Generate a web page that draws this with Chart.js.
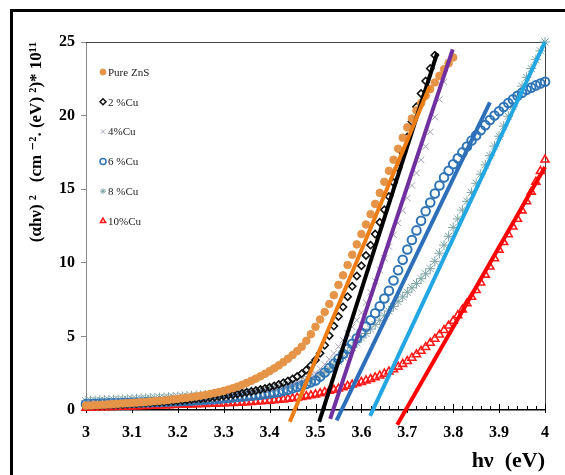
<!DOCTYPE html>
<html>
<head>
<meta charset="utf-8">
<script src="https://cdn.jsdelivr.net/npm/chart.js@4.4.0/dist/chart.umd.min.js"></script>
<style>
  html, body { margin: 0; padding: 0; background: #fff; overflow: hidden; }
  #c { display: block; }
</style>
</head>
<body>
<canvas id="c" width="565" height="475"></canvas>
<script>
// photon energy (eV) for the measured points
var hv = [
  3.00,3.01,3.02,3.03,3.04,3.05,3.06,3.07,3.08,3.09,
  3.10,3.11,3.12,3.13,3.14,3.15,3.16,3.17,3.18,3.19,
  3.20,3.21,3.22,3.23,3.24,3.25,3.26,3.27,3.28,3.29,
  3.30,3.31,3.32,3.33,3.34,3.35,3.36,3.37,3.38,3.39,
  3.40,3.41,3.42,3.43,3.44,3.45,3.46,3.47,3.48,3.49,
  3.50,3.51,3.52,3.53,3.54,3.55,3.56,3.57,3.58,3.59,
  3.60,3.61,3.62,3.63,3.64,3.65,3.66,3.67,3.68,3.69,
  3.70,3.71,3.72,3.73,3.74,3.75,3.76,3.77,3.78,3.79,
  3.80,3.81,3.82,3.83,3.84,3.85,3.86,3.87,3.88,3.89,
  3.90,3.91,3.92,3.93,3.94,3.95,3.96,3.97,3.98,3.99,
  4.00
];

var names = ["Pure ZnS", "2 %Cu", "4%Cu", "6 %Cu", "8 %Cu", "10%Cu"];

var pureZnS = [
  0.30,0.31,0.33,0.34,0.36,0.38,0.40,0.42,0.44,0.46,
  0.48,0.50,0.52,0.54,0.57,0.60,0.62,0.65,0.68,0.72,
  0.75,0.79,0.83,0.87,0.92,0.97,1.02,1.08,1.15,1.22,
  1.30,1.39,1.48,1.59,1.71,1.84,1.98,2.13,2.29,2.46,
  2.64,2.83,3.03,3.25,3.48,3.73,4.00,4.30,4.70,5.15,
  5.65,6.15,6.65,7.20,7.80,8.50,9.15,9.85,10.55,11.25,
  11.95,12.60,13.30,14.00,14.75,15.50,16.25,17.00,17.75,18.50,
  19.20,19.80,20.35,20.85,21.35,21.80,22.25,22.70,23.15,23.55,
  23.95
];
var cu2 = [
  0.28,0.29,0.30,0.31,0.32,0.34,0.35,0.37,0.38,0.40,
  0.42,0.43,0.45,0.47,0.49,0.51,0.53,0.55,0.57,0.60,
  0.62,0.65,0.68,0.71,0.74,0.77,0.80,0.84,0.87,0.91,
  0.95,1.00,1.04,1.09,1.14,1.20,1.26,1.32,1.39,1.47,
  1.55,1.64,1.74,1.85,1.97,2.10,2.27,2.47,2.72,3.02,
  3.40,3.85,4.40,5.05,5.70,6.35,7.00,7.70,8.40,9.10,
  9.80,10.50,11.20,11.95,12.75,13.60,14.50,15.45,16.45,17.50,
  18.55,19.60,20.60,21.50,22.35,23.20,24.10
];
var cu4 = [
  0.45,0.46,0.47,0.48,0.49,0.50,0.51,0.52,0.54,0.55,
  0.57,0.58,0.60,0.61,0.63,0.65,0.67,0.69,0.71,0.73,
  0.75,0.77,0.79,0.81,0.84,0.86,0.89,0.91,0.94,0.97,
  1.00,1.03,1.07,1.10,1.14,1.18,1.22,1.27,1.32,1.38,
  1.44,1.51,1.58,1.66,1.75,1.85,1.96,2.08,2.21,2.35,
  2.50,2.80,3.10,3.45,3.85,4.30,4.75,5.20,5.65,6.10,
  6.60,7.30,8.00,8.75,9.50,10.30,11.10,11.90,12.70,13.55,
  14.40,15.25,16.10,17.00,17.90,18.90,19.90,21.10,22.30,23.60
];
var cu6 = [
  0.40,0.41,0.42,0.43,0.44,0.45,0.46,0.46,0.47,0.48,
  0.49,0.50,0.51,0.52,0.53,0.54,0.55,0.56,0.57,0.59,
  0.60,0.61,0.63,0.64,0.66,0.68,0.70,0.72,0.74,0.77,
  0.80,0.82,0.85,0.88,0.91,0.94,0.97,1.00,1.04,1.08,
  1.12,1.17,1.23,1.30,1.38,1.47,1.56,1.66,1.77,1.88,
  2.00,2.27,2.55,2.85,3.15,3.47,3.80,4.15,4.50,4.87,
  5.25,5.67,6.10,6.57,7.05,7.57,8.10,8.80,9.50,10.20,
  10.90,11.55,12.20,12.85,13.50,14.10,14.70,15.25,15.80,16.25,
  16.70,17.10,17.50,17.90,18.30,18.65,19.00,19.35,19.70,20.00,
  20.30,20.58,20.85,21.10,21.35,21.55,21.75,21.90,22.05,22.18,
  22.30
];
var cu8 = [
  0.62,0.63,0.64,0.66,0.67,0.68,0.69,0.70,0.72,0.73,
  0.75,0.76,0.78,0.79,0.81,0.82,0.84,0.85,0.87,0.88,
  0.90,0.92,0.94,0.96,0.98,1.00,1.02,1.04,1.06,1.08,
  1.10,1.12,1.14,1.17,1.19,1.22,1.25,1.28,1.32,1.36,
  1.40,1.45,1.51,1.57,1.63,1.70,1.78,1.87,1.97,2.08,
  2.20,2.38,2.58,2.80,3.04,3.30,3.60,3.92,4.25,4.57,
  4.90,5.20,5.50,5.80,6.10,6.40,6.72,7.04,7.36,7.68,
  8.00,8.30,8.60,8.92,9.25,9.60,10.10,10.65,11.20,11.80,
  12.40,12.98,13.58,14.18,14.78,15.40,16.02,16.65,17.28,17.93,
  18.60,19.28,19.96,20.64,21.32,22.00,22.60,23.20,23.80,24.40,
  25.00
];
var cu10 = [
  0.15,0.16,0.17,0.17,0.18,0.19,0.20,0.21,0.22,0.23,
  0.24,0.25,0.26,0.27,0.28,0.29,0.30,0.31,0.32,0.33,
  0.34,0.35,0.36,0.37,0.38,0.39,0.40,0.41,0.42,0.43,
  0.45,0.46,0.47,0.49,0.50,0.52,0.54,0.56,0.58,0.60,
  0.62,0.65,0.68,0.71,0.75,0.79,0.83,0.88,0.93,0.99,
  1.05,1.13,1.21,1.29,1.37,1.45,1.54,1.63,1.72,1.81,
  1.90,2.00,2.10,2.21,2.33,2.46,2.60,2.76,2.93,3.12,
  3.32,3.54,3.77,4.01,4.27,4.55,4.83,5.12,5.42,5.73,
  6.05,6.42,6.82,7.24,7.68,8.14,8.65,9.18,9.73,10.30,
  10.88,11.40,11.93,12.45,12.98,13.55,14.17,14.82,15.50,16.22,
  17.00
];

// linear fits (Tauc extrapolation), end points [x0, x1], [y0, y1]
var fitZnSx = [3.444, 3.749], fitZnSy = [-0.8, 22.0];
var fit2x = [3.508, 3.765],   fit2y = [-0.8, 24.25];
var fit4x = [3.532, 3.799],   fit4y = [-0.6, 24.5];
var fit6x = [3.546, 3.880],   fit6y = [-0.7, 20.9];
var fit8x = [3.619, 4.000],   fit8y = [-0.4, 25.0];
var fit10x = [3.678, 4.000],  fit10y = [-1.0, 16.5];

var xTicks = ["3", "3.1", "3.2", "3.3", "3.4", "3.5", "3.6", "3.7", "3.8", "3.9", "4"];

function pts(ys) { return ys.map(function (y, i) { return { x: hv[i], y: y }; }); }
function line(xs, ys) { return xs.map(function (x, i) { return { x: x, y: ys[i] }; }); }

var serif = '"Liberation Serif", "DejaVu Serif", serif';

function markerSet(label, ys, style, fill, stroke, r, bw) {
  return {
    label: label, data: pts(ys), showLine: false, order: 2, clip: false,
    pointStyle: style, pointRadius: r, pointHoverRadius: r,
    pointBackgroundColor: fill, pointBorderColor: stroke, pointBorderWidth: bw
  };
}
function fitSet(xs, ys, color) {
  return {
    label: "", data: line(xs, ys), showLine: true, order: 1, clip: false,
    borderColor: color, borderWidth: 4, pointRadius: 0, fill: false
  };
}

var markers = [
  markerSet(names[0], pureZnS, 'circle', '#E59448', '#E59448', 3.8, 1),
  markerSet(names[1], cu2, 'rectRot', 'rgba(255,255,255,0)', '#111', 3.6, 1.6),
  markerSet(names[2], cu4, 'crossRot', 'rgba(0,0,0,0)', '#A99FB8', 4.5, 1),
  markerSet(names[3], cu6, 'circle', 'rgba(255,255,255,0)', '#2F75B5', 4.3, 2),
  markerSet(names[4], cu8, 'star', 'rgba(0,0,0,0)', '#7CA4A6', 5, 1),
  markerSet(names[5], cu10, 'triangle', 'rgba(255,255,255,0)', '#FF1A1A', 4.6, 1.6)
];
var fits = [
  fitSet(fitZnSx, fitZnSy, '#EE7D14'),
  fitSet(fit2x, fit2y, '#000000'),
  fitSet(fit4x, fit4y, '#7030A0'),
  fitSet(fit6x, fit6y, '#2E6FBA'),
  fitSet(fit8x, fit8y, '#22A7E2'),
  fitSet(fit10x, fit10y, '#FF0000')
];

var frameAndLegend = {
  id: 'frameAndLegend',
  beforeDraw: function (chart) {
    var ctx = chart.ctx;
    ctx.save();
    ctx.fillStyle = '#fff';
    ctx.fillRect(0, 0, chart.width, chart.height);
    // outer picture frame: top and left edges only
    ctx.fillStyle = '#000';
    ctx.fillRect(10, 9, chart.width - 10, 3);
    ctx.fillRect(10, 9, 3, chart.height - 9);
    ctx.restore();
  },
  beforeDatasetsDraw: function (chart) {
    var a = chart.chartArea, ctx = chart.ctx;
    ctx.save();
    ctx.strokeStyle = '#444';
    ctx.lineWidth = 1;
    ctx.beginPath();
    ctx.moveTo(a.left, a.top + 0.5);
    ctx.lineTo(a.right + 0.5, a.top + 0.5);
    ctx.lineTo(a.right + 0.5, a.bottom);
    ctx.stroke();
    // x tick marks pointing into the plot
    var sx = chart.scales.x;
    ctx.strokeStyle = '#000';
    ctx.lineWidth = 1;
    sx.ticks.forEach(function (t) {
      var px = Math.round(sx.getPixelForValue(t.value)) + 0.5;
      var major = Math.abs(t.value * 10 - Math.round(t.value * 10)) < 1e-6;
      ctx.beginPath();
      ctx.moveTo(px, a.bottom - (major ? 6 : 4));
      ctx.lineTo(px, a.bottom + (major ? 3 : 0));
      ctx.stroke();
    });
    ctx.restore();
  },
  afterDatasetsDraw: function (chart) {
    var a = chart.chartArea, ctx = chart.ctx;
    ctx.save();
    ctx.font = '11px ' + serif;
    ctx.textBaseline = 'middle';
    markers.forEach(function (ds, i) {
      var y = a.top + 30 + i * 29.8;
      var x = a.left + 17;
      ctx.fillStyle = ds.pointBackgroundColor;
      ctx.strokeStyle = ds.pointBorderColor;
      ctx.lineWidth = Math.min(ds.pointBorderWidth, 1.5);
      Chart.helpers.drawPoint(ctx, { pointStyle: ds.pointStyle, radius: 3, rotation: 0, borderWidth: ctx.lineWidth }, x, y);
      ctx.fillStyle = '#222';
      ctx.fillText(ds.label, x + 5, y + 1);
    });
    ctx.restore();
  }
};

new Chart(document.getElementById('c'), {
  type: 'scatter',
  data: { datasets: fits.concat(markers) },
  options: {
    responsive: false,
    animation: false,
    events: [],
    layout: { padding: { left: 0, right: 20, top: 42, bottom: 0 } },
    plugins: { legend: { display: false }, tooltip: { enabled: false } },
    scales: {
      x: {
        type: 'linear', min: 3, max: 4,
        afterFit: function (s) { s.height = 65; },
        ticks: {
          stepSize: 0.02, autoSkip: false, maxRotation: 0, padding: 13,
          color: '#000', font: { family: serif, size: 16, weight: 'bold' },
          callback: function (v) {
            var k = Math.round(v * 10);
            if (Math.abs(v * 10 - k) > 1e-6) return '';
            return xTicks[k - 30];
          }
        },
        grid: { drawOnChartArea: false, drawTicks: false, tickLength: 0 },
        border: { color: '#000', width: 1.5 },
        title: {
          display: true, text: 'hν  (eV)', align: 'end', color: '#000',
          font: { family: serif, size: 22, weight: 'bold' }, padding: { top: 0, bottom: 0 }
        }
      },
      y: {
        min: 0, max: 25,
        afterFit: function (s) { s.width = 86; },
        ticks: {
          stepSize: 5, padding: 6, color: '#000',
          font: { family: serif, size: 16, weight: 'bold' }
        },
        grid: { drawOnChartArea: false, tickLength: 5, color: '#888' },
        border: { color: '#888', width: 1 },
        title: {
          display: true, text: '(αhν) ²   (cm ⁻². (eV) ²)* 10¹¹', align: 'end', color: '#000',
          font: { family: serif, size: 17, weight: 'bold' }, padding: { top: 26, bottom: 0 }
        }
      }
    }
  },
  plugins: [frameAndLegend]
});
</script>
</body>
</html>
